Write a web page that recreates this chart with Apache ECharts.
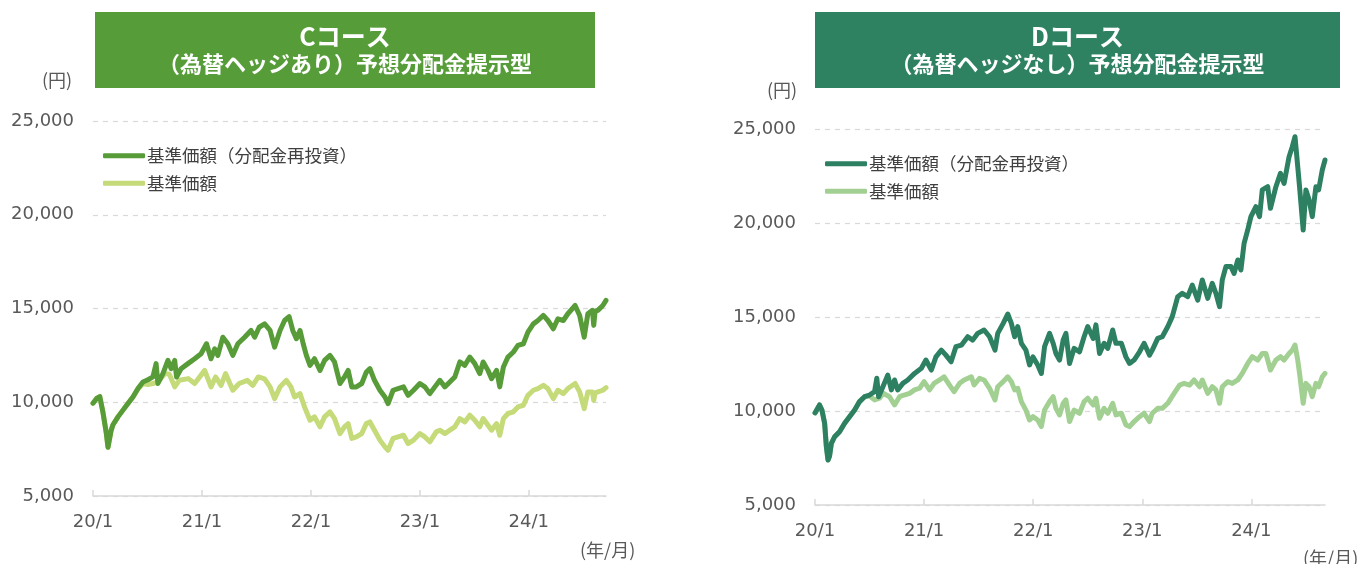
<!DOCTYPE html>
<html><head><meta charset="utf-8">
<script src="https://cdn.jsdelivr.net/npm/echarts@6/dist/echarts.min.js"></script>
<style>html,body{margin:0;padding:0;background:#fff}#c{width:1366px;height:564px}</style>
</head><body><div id="c"></div>
<script>
// x = months since 2020/1
const xTickLabels = ['20/1','21/1','22/1','23/1','24/1'];
const yTicks = [5000,10000,15000,20000,25000];
const seriesNames = ['基準価額（分配金再投資）','基準価額'];
const titlesC = ['Cコース','（為替ヘッジあり）予想分配金提示型'];
const titlesD = ['Dコース','（為替ヘッジなし）予想分配金提示型'];

const cReinvest = [[0,9950],[0.4,10200],[0.75,10300],[1.1,9450],[1.45,8400],[1.65,7600],[1.8,7700],[2.0,8500],[2.2,8800],[2.75,9220],[3.3,9580],[3.85,9930],[4.4,10280],[4.95,10730],[5.5,11080],[6.05,11200],[6.6,11350],[6.95,12060],[7.15,11000],[7.7,11530],[8.25,12230],[8.6,11790],[9.0,12230],[9.2,11350],[9.7,11790],[10.45,12060],[11.2,12320],[11.9,12590],[12.5,13120],[13.0,12320],[13.4,12850],[13.75,12500],[14.3,13470],[14.85,13120],[15.4,12500],[15.95,13120],[16.7,13470],[17.4,13830],[17.8,13470],[18.3,14000],[18.9,14180],[19.5,13830],[20.0,12940],[20.6,13830],[21.1,14360],[21.6,14570],[22.0,13830],[22.4,13390],[22.8,13830],[23.15,13120],[23.5,12500],[23.9,11970],[24.4,12320],[25.0,11700],[25.5,12230],[26.1,12500],[26.6,12150],[27.2,11000],[27.7,11350],[28.1,11700],[28.5,10820],[29.0,10820],[29.6,11000],[30.1,11610],[30.5,11790],[31.0,11170],[31.6,10640],[32.15,10280],[32.5,9930],[33.05,10640],[33.6,10730],[34.2,10820],[34.7,10370],[35.3,10640],[36.0,11000],[36.55,10820],[37.1,10460],[37.65,10820],[38.2,11170],[38.75,10820],[39.3,11080],[39.85,11350],[40.4,12150],[40.95,11970],[41.5,12410],[42.05,12060],[42.6,11530],[42.97,12150],[43.5,11700],[43.9,11260],[44.45,11700],[44.8,10820],[45.2,11880],[45.7,12410],[46.3,12680],[46.8,13030],[47.4,13120],[47.9,13740],[48.5,14180],[49.0,14360],[49.6,14630],[50.1,14360],[50.7,13920],[51.2,14450],[51.8,14360],[52.3,14720],[53.1,15160],[53.6,14630],[54.1,13470],[54.5,14720],[55.0,14900],[55.15,14100],[55.3,14850],[55.6,14900],[56.15,15160],[56.5,15430]];

const cNav = [[0,9950],[0.4,10200],[0.75,10300],[1.1,9450],[1.45,8400],[1.65,7600],[1.8,7700],[2.0,8500],[2.2,8800],[2.75,9220],[3.3,9580],[3.85,9930],[4.4,10280],[4.95,10700],[5.5,11000],[6.05,10950],[6.6,11000],[7.15,11080],[7.9,11530],[8.4,11500],[9.0,10820],[9.5,11170],[10.5,11260],[11.2,11000],[12.3,11700],[13.0,10820],[13.5,11350],[14.1,10900],[14.6,11530],[15.4,10640],[16.1,11000],[17.0,11170],[17.6,10900],[18.2,11350],[18.9,11250],[19.5,10820],[20.0,10190],[20.6,10820],[21.3,11170],[21.8,10820],[22.2,10280],[22.8,10460],[23.3,9750],[23.9,9040],[24.4,9220],[25.0,8690],[25.5,9220],[26.1,9490],[26.6,9130],[27.2,8330],[27.7,8690],[28.1,8860],[28.5,8070],[29.0,8150],[29.6,8330],[30.1,8860],[30.5,8950],[31.0,8510],[31.6,7980],[32.15,7620],[32.5,7440],[33.05,8070],[33.6,8150],[34.2,8240],[34.7,7800],[35.3,7980],[36.0,8330],[36.55,8150],[37.1,7890],[37.8,8420],[38.2,8510],[38.75,8330],[39.3,8510],[39.85,8690],[40.4,9130],[40.95,8950],[41.5,9310],[42.05,9040],[42.6,8690],[42.97,9130],[43.5,8770],[43.9,8510],[44.45,8860],[44.8,8240],[45.2,9130],[45.7,9400],[46.3,9490],[46.8,9750],[47.4,9840],[47.9,10370],[48.5,10640],[49.0,10730],[49.6,10900],[50.1,10730],[50.7,10190],[51.2,10640],[51.8,10460],[52.3,10730],[53.1,11000],[53.6,10550],[54.1,9660],[54.5,10550],[55.0,10550],[55.15,10100],[55.3,10500],[55.6,10550],[56.15,10640],[56.5,10780]];

const dReinvest = [[0,9900],[0.5,10320],[0.76,10050],[1.06,9350],[1.25,8100],[1.43,7390],[1.6,7600],[1.8,8280],[2.16,8630],[2.7,8900],[3.26,9350],[3.8,9700],[4.36,10050],[4.9,10500],[5.45,10760],[6.0,10850],[6.55,11030],[6.8,11740],[7.0,10760],[7.47,11290],[8.0,11910],[8.4,11120],[8.75,11650],[9.1,11120],[9.66,11470],[10.2,11650],[10.95,12000],[11.7,12270],[12.2,12710],[12.8,12180],[13.3,12880],[13.9,13240],[14.4,12970],[14.97,12620],[15.5,13420],[16.1,13500],[16.8,13950],[17.35,13770],[17.9,14130],[18.6,14310],[19.2,13950],[19.8,13240],[20.1,14130],[20.7,14660],[21.2,15160],[21.6,14660],[21.96,13950],[22.3,14490],[22.7,13600],[23.2,13240],[23.6,12450],[23.97,12880],[24.5,12450],[24.9,12000],[25.25,13420],[25.8,14130],[26.2,13600],[26.5,13060],[26.9,12710],[27.3,13780],[27.6,14130],[28.0,12530],[28.5,13330],[29.1,13150],[29.6,13950],[30.0,14490],[30.6,13860],[30.9,14580],[31.3,13060],[31.8,13600],[32.2,13330],[32.75,14310],[33.1,13600],[33.7,13600],[34.2,12880],[34.6,12530],[35.1,12710],[35.7,13150],[36.2,13600],[36.8,12970],[37.1,13240],[37.7,13860],[38.2,13950],[38.8,14480],[39.3,15020],[39.9,16080],[40.4,16260],[41.0,16080],[41.5,16700],[42.1,15900],[42.6,16970],[43.2,15990],[43.7,16790],[44.1,16260],[44.5,15550],[44.8,16970],[45.2,17680],[45.75,17680],[46.1,17320],[46.5,18030],[46.85,17500],[47.2,18920],[47.6,19630],[47.95,20340],[48.5,20870],[48.9,20340],[49.2,21760],[49.8,21930],[50.1,20780],[50.7,21930],[51.2,22640],[51.6,22110],[52.15,23530],[52.5,24060],[52.8,24590],[53.1,23000],[53.3,21930],[53.7,19630],[54.0,21760],[54.35,21230],[54.7,20340],[55.1,21930],[55.4,21760],[55.8,22820],[56.1,23350]];

const dNav = [[0,9900],[0.5,10320],[0.76,10050],[1.06,9350],[1.25,8100],[1.43,7390],[1.6,7600],[1.8,8280],[2.16,8630],[2.7,8900],[3.26,9350],[3.8,9700],[4.36,10050],[4.9,10500],[5.45,10760],[6.0,10800],[6.55,10590],[7.1,10680],[7.5,10940],[8.2,10760],[8.75,10320],[9.3,10760],[9.8,10850],[10.4,10940],[10.95,11120],[11.5,11210],[12.0,11560],[12.6,11120],[13.1,11470],[13.7,11650],[14.2,11820],[14.8,11380],[15.3,11030],[15.9,11470],[16.4,11650],[17.2,11820],[17.5,11380],[18.1,11740],[18.6,11650],[19.2,11210],[19.8,10590],[20.1,11290],[20.7,11560],[21.2,11820],[21.6,11560],[21.96,11120],[22.3,11210],[22.7,10500],[23.2,10050],[23.6,9520],[23.97,9700],[24.5,9520],[24.9,9170],[25.25,10050],[25.8,10500],[26.2,10760],[26.5,10140],[26.9,9790],[27.3,10410],[27.6,10590],[28.0,9440],[28.5,10050],[29.1,9880],[29.6,10500],[30.0,10680],[30.6,10320],[30.9,10680],[31.3,9610],[31.8,10140],[32.2,9880],[32.75,10410],[33.1,9790],[33.7,9880],[34.2,9260],[34.6,9170],[35.1,9440],[35.7,9700],[36.2,9880],[36.8,9440],[37.1,9880],[37.7,10140],[38.2,10140],[38.8,10410],[39.5,10940],[40.1,11380],[40.6,11470],[41.2,11380],[41.7,11650],[42.3,11290],[42.6,11650],[43.2,10940],[43.7,11290],[44.1,11120],[44.5,10410],[44.8,11290],[45.4,11560],[45.9,11470],[46.5,11650],[47.0,12000],[47.6,12530],[48.1,12890],[48.7,12710],[49.2,13060],[49.6,13060],[50.1,12180],[50.7,12710],[51.2,12890],[51.6,12710],[52.15,13060],[52.5,13240],[52.8,13510],[53.1,12710],[53.3,12000],[53.7,10410],[54.0,11470],[54.35,11290],[54.7,10760],[55.1,11470],[55.4,11290],[55.8,11820],[56.1,12000]];

const FONT = "'Noto Sans CJK JP','Noto Sans',sans-serif";
const NUMFONT = "'DejaVu Sans',Verdana,sans-serif";
const COL = {cDark:'#579c38', cLight:'#c5da78', dDark:'#2d8062', dLight:'#a2d092', cBox:'#569c38', dBox:'#2e8262'};
const chart = echarts.init(document.getElementById('c'));

function xAxisDef(idx, max){
  return {type:'value', gridIndex:idx, min:0, max:max, interval:12,
    axisLine:{show:true, lineStyle:{color:'#d9d9d9', width:1.5}},
    axisTick:{show:true, inside:true, length:6, lineStyle:{color:'#d9d9d9', width:1.5}},
    splitLine:{show:false},
    axisLabel:{color:'#595959', fontSize:18, fontFamily:NUMFONT, margin:17, showMaxLabel:false,
      formatter:v=> xTickLabels[Math.round(v/12)] || ''}};
}
function yAxisDef(idx){
  return {type:'value', gridIndex:idx, min:yTicks[0], max:yTicks[yTicks.length-1], interval:5000,
    axisLine:{show:false}, axisTick:{show:false},
    splitLine:{show:true, lineStyle:{color:'#d9d9d9', type:[5,5], width:1.2}},
    axisLabel:{color:'#595959', fontSize:18, fontFamily:NUMFONT, margin:19,
      formatter:v=> yTicks.includes(v) ? v.toLocaleString('en-US') : ''}};
}
function line(name, data, color, xi){
  return {type:'line', name:name, data:data, xAxisIndex:xi, yAxisIndex:xi,
    showSymbol:false, symbol:'none', smooth:false, animation:false,
    itemStyle:{color:color}, lineStyle:{color:color, width:5, join:'round', cap:'round'}};
}
function legendDef(prefix, left, top){
  return {orient:'vertical', left:left, top:top, padding:0, itemGap:10, itemWidth:42, itemHeight:5,
    icon:'roundRect', selectedMode:false,
    data:[prefix+seriesNames[0], prefix+seriesNames[1]],
    formatter:n=>n.slice(2),
    textStyle:{color:'#404040', fontSize:17.5, fontFamily:FONT, padding:[0,0,0,-3]}};
}
function titleGraphic(x, w, color, lines){
  return [
    {type:'rect', left:x, top:12, shape:{width:w, height:76}, style:{fill:color}, silent:true},
    {type:'text', x:x+w/2, y:36, style:{text:lines[0], fill:'#fff', fontSize:25, fontWeight:'bold', fontFamily:FONT, align:'center', verticalAlign:'middle'}},
    {type:'text', x:x+w/2, y:64, style:{text:lines[1], fill:'#fff', fontSize:22, fontWeight:'bold', fontFamily:FONT, align:'center', verticalAlign:'middle'}}
  ];
}
const txt = (x,y,t,align)=>({type:'text', x:x, y:y, style:{text:t, fill:'#595959', fontSize:18, fontFamily:FONT, align:align||'left', verticalAlign:'middle'}});

chart.setOption({
  animation:false,
  grid:[
    {left:93, top:121, width:513, height:375},
    {left:815, top:129, width:510, height:376}
  ],
  xAxis:[xAxisDef(0, cReinvest[cReinvest.length-1][0]), xAxisDef(1, dReinvest[dReinvest.length-1][0])],
  yAxis:[yAxisDef(0), yAxisDef(1)],
  legend:[legendDef('C:',103,147), legendDef('D:',825,155)],
  series:[
    line('C:'+seriesNames[1], cNav, COL.cLight, 0),
    line('C:'+seriesNames[0], cReinvest, COL.cDark, 0),
    line('D:'+seriesNames[1], dNav, COL.dLight, 1),
    line('D:'+seriesNames[0], dReinvest, COL.dDark, 1)
  ],
  graphic:[].concat(
    titleGraphic(95, 500, COL.cBox, titlesC),
    titleGraphic(815, 525, COL.dBox, titlesD),
    [txt(57,80,'(円)','center'), txt(782,90,'(円)','center'),
     txt(580,550,'(年/月)'), txt(1303,558,'(年/月)')]
  )
});
</script></body></html>
